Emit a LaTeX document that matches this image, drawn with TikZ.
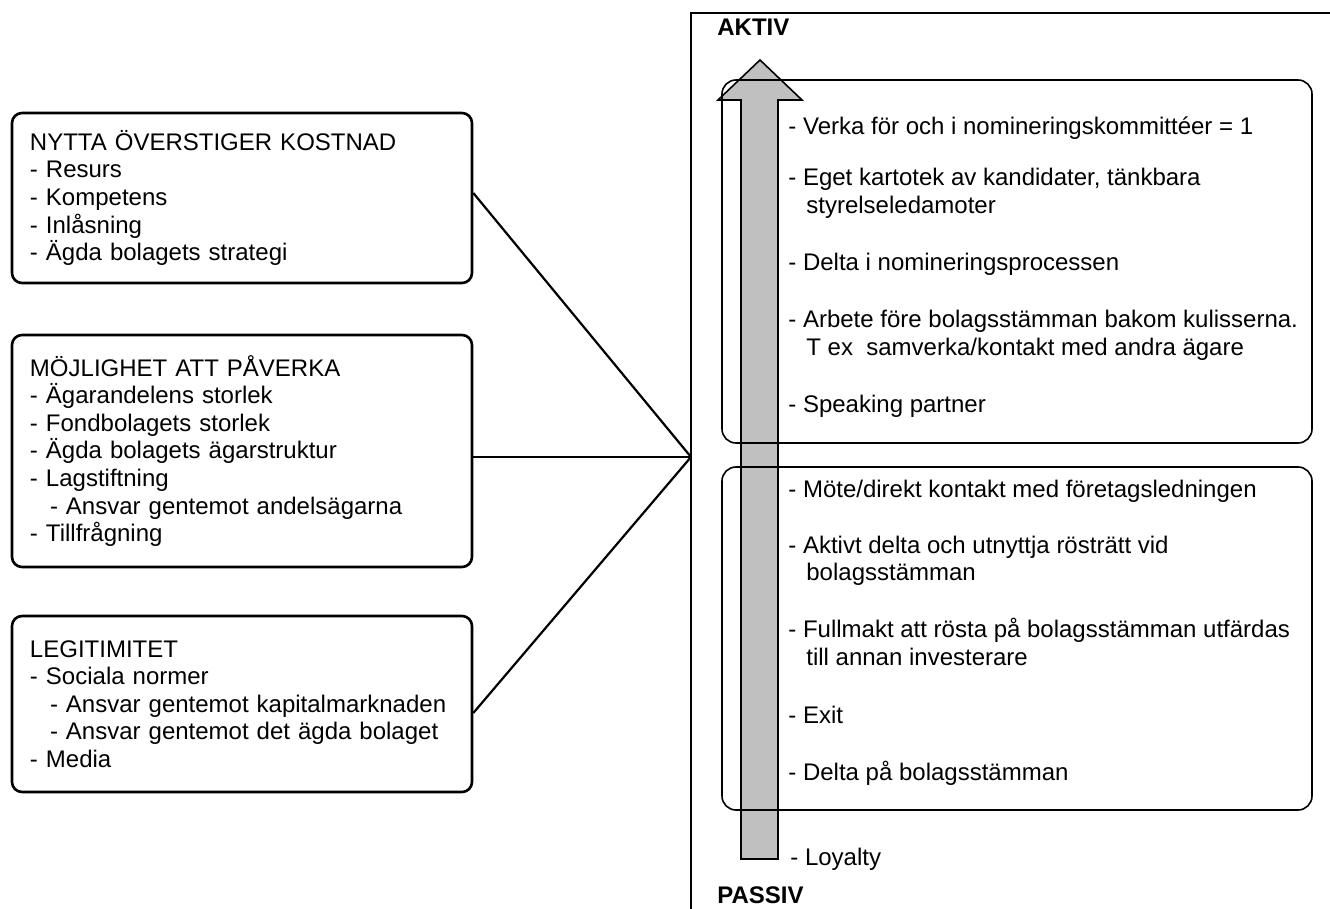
\documentclass[tikz,border=0pt]{standalone}
\usepackage{fontspec}
\setmainfont{Liberation Sans}
\definecolor{arrowgray}{HTML}{C0C0C0}
\begin{document}
\begin{tikzpicture}[x=0.5pt,y=-0.5pt,
  lbox/.style={draw, line width=1.3pt, rounded corners=5pt, minimum width=230pt,
    inner xsep=9pt, inner ysep=0pt, text width=212pt, align=left,
    font=\fontsize{12}{13.8}\selectfont},
  rbox/.style={draw, line width=0.8pt, rounded corners=7pt, minimum width=295pt, inner sep=0pt},
  item/.style={anchor=base west, inner sep=0pt, font=\fontsize{12}{13.8}\selectfont},
  head/.style={anchor=base west, inner sep=0pt, font=\fontsize{12}{13.8}\selectfont\bfseries},
  conn/.style={line width=1.1pt},
  frame/.style={line width=1.2pt},
  bigarrow/.style={fill=arrowgray, draw=black, line width=0.8pt, line join=miter}
]
\useasboundingbox (0,0) rectangle (1330,909);

% frame
\draw[frame] (1330,13) -| (691,909);
\coordinate (m) at (691,457);

% big arrow
\draw[bigarrow] (741,859) -- (741,100) -- (718,100) -- (760,60) -- (802,100) -- (778,100) -- (778,859) -- cycle;

% right boxes
\node[rbox, minimum height=181.5pt] (up) at (1017,261.5) {};
\node[rbox, minimum height=171.5pt] (lo) at (1017,638.5) {};

% left boxes
\node[lbox, minimum height=85pt] (b1) at (242,198) {NYTTA ÖVERSTIGER KOSTNAD\\
- Resurs\\
- Kompetens\\
- Inlåsning\\
- Ägda bolagets strategi};
\node[lbox, minimum height=116pt] (b2) at (242,451) {MÖJLIGHET ATT PÅVERKA\\
- Ägarandelens storlek\\
- Fondbolagets storlek\\
- Ägda bolagets ägarstruktur\\
- Lagstiftning\\
\hspace*{10pt}- Ansvar gentemot andelsägarna\\
- Tillfrågning};
\node[lbox, minimum height=88pt] (b3) at (242,704) {LEGITIMITET\\
- Sociala normer\\
\hspace*{10pt}- Ansvar gentemot kapitalmarknaden\\
\hspace*{10pt}- Ansvar gentemot det ägda bolaget\\
- Media};

% connectors
\draw[conn] ([yshift=2.5pt]b1.east) -- (m);
\draw[conn] (b2.east |- m) -- (m);
\draw[conn] ([yshift=-4.5pt]b3.east) -- (m);

% labels
\node[head] (aktiv) at (717,36) {AKTIV};
\node[head] (passiv) at (717,903) {PASSIV};

\node[item] (t1) at (788,135) {- Verka för och i nomineringskommittéer = 1};
\node[item] (t2) at (788,186) {- Eget kartotek av kandidater, tänkbara};
\node[item] (t2b) at (806,214) {styrelseledamoter};
\node[item] (t3) at (788,271) {- Delta i nomineringsprocessen};
\node[item] (t4) at (788,328) {- Arbete före bolagsstämman bakom kulisserna.};
\node[item] (t4b) at (806,356) {T ex\ \ samverka/kontakt med andra ägare};
\node[item] (t5) at (788,413) {- Speaking partner};

\node[item] (t6) at (788,498) {- Möte/direkt kontakt med företagsledningen};
\node[item] (t7) at (788,553) {- Aktivt delta och utnyttja rösträtt vid};
\node[item] (t7b) at (806,581) {bolagsstämman};
\node[item] (t8) at (788,638) {- Fullmakt att rösta på bolagsstämman utfärdas};
\node[item] (t8b) at (806,666) {till annan investerare};
\node[item] (t9) at (788,723) {- Exit};
\node[item] (t10) at (788,780) {- Delta på bolagsstämman};
\node[item] (t11) at (790,865) {- Loyalty};
\end{tikzpicture}
\end{document}
